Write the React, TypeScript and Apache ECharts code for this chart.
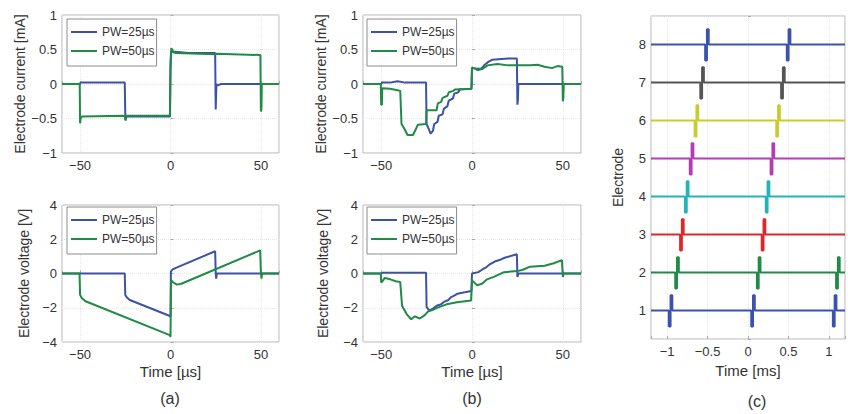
import React, { useEffect, useRef } from "react";
import * as echarts from "echarts";

const FONT = "'Liberation Sans', Arial, sans-serif";
const TEXT = "#333";
const BLUE = "#3b52a8";
const GREEN = "#1f8b45";
const legendNames = ["PW=25µs", "PW=50µs"];

// tick labels
const usTicks = [-50, 0, 50];
const curTicks = [-1, -0.5, 0, 0.5, 1];
const voltTicks = [-4, -2, 0, 2, 4];
const msTicks = [-1, -0.5, 0, 0.5, 1];
const electrodes = [1, 2, 3, 4, 5, 6, 7, 8];

// (a) electrode current [mA] vs time [µs]
const aCur25: number[][] = [
  [-60, 0], [-50.2, 0], [-49.8, 0.02], [-25.3, 0.02], [-25, -0.45], [-24.8, -0.53], [-24.4, -0.47],
  [-0.3, -0.47], [0, 0.2], [0.3, 0.47], [1, 0.47], [10, 0.45], [24.7, 0.45], [25, -0.37], [25.2, -0.37],
  [25.4, 0], [26, -0.02], [28, 0], [60, 0],
];
const aCur50: number[][] = [
  [-60, 0], [-50.2, 0], [-50, -0.57], [-49.7, -0.5], [-49, -0.47], [-25.2, -0.46], [-25, -0.52], [-24.6, -0.46],
  [-0.3, -0.46], [0, 0.3], [0.5, 0.52], [1.5, 0.46], [3, 0.45], [25, 0.43], [25.5, 0.44], [49.7, 0.42],
  [50, -0.4], [50.3, -0.35], [50.5, 0], [60, 0],
];
// (a) electrode voltage [V]
const aVolt25: number[][] = [
  [-60, 0], [-25.3, 0], [-25, -1.25], [-24, -1.42], [-22.5, -1.55], [-0.3, -2.48], [0, -2.55], [0.2, 0.1],
  [1, 0.22], [3, 0.33], [24.7, 1.3], [25, 0], [25.3, -0.3], [25.6, 0], [60, 0],
];
const aVolt50: number[][] = [
  [-60, 0], [-50.3, 0], [-50, -1.25], [-49, -1.45], [-47, -1.62], [-0.4, -3.6], [0, -3.7], [0.3, -0.38],
  [1.5, -0.52], [3.5, -0.65], [6, -0.6], [49.6, 1.35], [50, 0], [50.3, -0.3], [50.6, 0], [60, 0],
];

// (b) electrode current [mA]
const bCur25: number[][] = [
  [-60, 0], [-50, 0], [-49.5, 0.02], [-45, 0.02], [-41, 0.04], [-37, 0.02], [-25.3, 0.02], [-25, -0.58],
  [-24, -0.64], [-22.8, -0.72], [-21.5, -0.68], [-20.8, -0.58], [-19, -0.55], [-18.3, -0.46], [-16.2, -0.44],
  [-15.5, -0.36], [-13.5, -0.32], [-12.8, -0.24], [-10.5, -0.21], [-9.8, -0.14], [-7.5, -0.12], [-6.8, -0.08],
  [-0.3, -0.07], [0, 0.23], [3, 0.22], [5, 0.22], [7, 0.28], [9, 0.32], [11, 0.35], [20, 0.37], [24.7, 0.37],
  [25, -0.3], [25.3, -0.22], [25.5, 0], [60, 0],
];
const bCur50: number[][] = [
  [-60, 0], [-50.2, 0], [-50, -0.3], [-49.6, -0.3], [-49.4, -0.06], [-45, -0.07], [-41, -0.09], [-39.5, -0.1],
  [-38.8, -0.58], [-37, -0.66], [-35.5, -0.74], [-32.5, -0.74], [-31, -0.66], [-29.8, -0.59], [-25.3, -0.58],
  [-25, -0.38], [-19.5, -0.38], [-18.8, -0.28], [-17, -0.26], [-16.2, -0.2], [-13.5, -0.17], [-12.8, -0.12],
  [-10.2, -0.1], [-9.5, -0.08], [-0.3, -0.07], [0, 0.24], [2, 0.22], [3, 0.2], [6, 0.22], [8.5, 0.27],
  [14, 0.29], [20, 0.27], [32, 0.27], [36, 0.28], [40, 0.25], [44, 0.23], [47, 0.26], [49.7, 0.25],
  [50, -0.25], [50.3, -0.2], [50.5, 0], [60, 0],
];
// (b) electrode voltage [V]
const bVolt25: number[][] = [
  [-60, 0], [-50, 0], [-49.5, 0.05], [-25.3, 0.05], [-25, -1.95], [-23.5, -2.17], [-21.5, -2.05],
  [-19.5, -1.88], [-17, -1.8], [-15.5, -1.66], [-13, -1.55], [-11.5, -1.38], [-9.5, -1.28], [-8, -1.18],
  [-4, -1.1], [-0.3, -1.02], [0, 0], [3.5, 0.08], [5.5, 0.22], [7.5, 0.34], [10, 0.55], [12.5, 0.7],
  [16, 0.82], [18, 0.92], [24.7, 1.12], [25, -0.2], [25.3, -0.08], [25.6, 0], [60, 0],
];
const bVolt50: number[][] = [
  [-60, 0], [-50.2, 0], [-50, -0.53], [-49.3, -0.45], [-48, -0.26], [-45, -0.34], [-42, -0.45], [-39.5, -0.5],
  [-38.5, -1.88], [-36, -2.37], [-33.5, -2.67], [-31.5, -2.5], [-28.7, -2.63], [-26, -2.43], [-24, -2.2],
  [-21, -2.1], [-18.5, -1.98], [-14, -1.8], [-8.3, -1.68], [-0.5, -1.58], [0, -0.4], [2.8, -0.69],
  [5.5, -0.6], [8.3, -0.34], [12, -0.2], [17.6, 0.08], [25, 0.14], [28, 0.22], [32, 0.4], [40, 0.45],
  [45, 0.6], [49.5, 0.78], [50, -0.2], [50.4, -0.05], [50.8, 0], [60, 0],
];

// (c) stimulation pulse onsets [ms] per electrode (1..8) and the biphasic pulse template
const pulseOnsets: number[][] = [
  [-0.98, 0.04, 1.05],
  [-0.9, 0.11, 1.09],
  [-0.84, 0.17],
  [-0.78, 0.22],
  [-0.72, 0.28],
  [-0.66, 0.35],
  [-0.59, 0.41],
  [-0.53, 0.48],
];
const pulseTemplate: number[][] = [
  [0, -0.42], [0.022, -0.42], [0.022, 0.4], [0.044, 0.4],
];
const electrodeColors = ["#3b52b0", "#1f8b45", "#e0262a", "#22b4b8", "#b43cb4", "#c9cc2c", "#555555", "#3b52b0"];

function buildTrace(e: number, onsets: number[]): number[][] {
  const pts: number[][] = [[-1.2, e]];
  onsets.forEach((t) => {
    pts.push([t, e]);
    pulseTemplate.forEach(([dt, dv]) => pts.push([t + dt, e + dv]));
    pts.push([t + pulseTemplate[pulseTemplate.length - 1][0], e]);
  });
  pts.push([1.2, e]);
  return pts;
}

const fmt = (ticks: number[]) => (v: number) => {
  const hit = ticks.find((t) => Math.abs(t - v) < 1e-9);
  if (hit === undefined) return "";
  return String(hit).replace("-", "\u2212");
};

const splitLine = { show: true, lineStyle: { color: "#e6e6e6", type: "dotted" as const, width: 1 } };
const axisTick = { show: true, inside: true, length: 3, lineStyle: { color: "#aaa" } };
const axisLabelBase = { color: TEXT, fontSize: 13, fontFamily: FONT };

function xAxis(gridIndex: number, min: number, max: number, splitNumber: number, ticks: number[], name?: string) {
  return {
    type: "value", gridIndex, min, max, splitNumber,
    axisLine: { show: false }, axisTick, splitLine,
    axisLabel: { ...axisLabelBase, margin: 6, formatter: fmt(ticks) },
    name: name || "", nameLocation: "middle", nameGap: 22,
    nameTextStyle: { color: TEXT, fontSize: 15, fontFamily: FONT },
  };
}
function yAxis(gridIndex: number, min: number, max: number, splitNumber: number, ticks: number[], name: string, nameGap: number) {
  return {
    type: "value", gridIndex, min, max, splitNumber,
    axisLine: { show: false }, axisTick, splitLine,
    axisLabel: { ...axisLabelBase, margin: 5, formatter: fmt(ticks) },
    name, nameLocation: "middle", nameGap, nameRotate: 90,
    nameTextStyle: { color: TEXT, fontSize: 14, fontFamily: FONT },
  };
}
function line(name: string, data: number[][], color: string, idx: number, width = 2) {
  return {
    type: "line", name, data, xAxisIndex: idx, yAxisIndex: idx, showSymbol: false, symbol: "none",
    color, lineStyle: { color, width }, silent: true,
  };
}
function legend(left: number, top: number) {
  return {
    data: legendNames.map((n) => ({ name: n, icon: "rect" })),
    orient: "vertical", left, top, itemWidth: 26, itemHeight: 2, itemGap: 5,
    padding: [6, 2, 8, 4], borderColor: "#8c8c8c", borderWidth: 1, backgroundColor: "#fff",
    textStyle: { color: TEXT, fontSize: 12, fontFamily: FONT, lineHeight: 14 }, selectedMode: false,
  };
}
const gridBase = { show: true, borderColor: "#b4b4b4", borderWidth: 1, backgroundColor: "#fff" };

export default function App() {
  const ref = useRef<HTMLDivElement>(null);
  useEffect(() => {
    if (!ref.current) return;
    const chart = echarts.init(ref.current, undefined, { renderer: "svg" });
    const cSeries = electrodes.map((e, i) => line("E" + e, buildTrace(e, pulseOnsets[i]), electrodeColors[i], 4, 2));
    chart.setOption({
      animation: false,
      backgroundColor: "#fff",
      textStyle: { fontFamily: FONT },
      grid: [
        { ...gridBase, left: 62, top: 15, width: 217, height: 138 },
        { ...gridBase, left: 62, top: 205, width: 217, height: 137 },
        { ...gridBase, left: 363, top: 15, width: 218, height: 138 },
        { ...gridBase, left: 363, top: 205, width: 218, height: 137 },
        { ...gridBase, left: 651, top: 16, width: 204, height: 323 },
      ],
      xAxis: [
        xAxis(0, -60, 60, 2, usTicks),
        xAxis(1, -60, 60, 2, usTicks, "Time [µs]"),
        xAxis(2, -60, 60, 2, usTicks),
        xAxis(3, -60, 60, 2, usTicks, "Time [µs]"),
        xAxis(4, -1.2, 1.2, 5, msTicks, "Time [ms]"),
      ],
      yAxis: [
        yAxis(0, -1, 1, 4, curTicks, "Electrode current [mA]", 31),
        yAxis(1, -4, 4, 4, voltTicks, "Electrode voltage [V]", 31),
        yAxis(2, -1, 1, 4, curTicks, "Electrode current [mA]", 33),
        yAxis(3, -4, 4, 4, voltTicks, "Electrode voltage [V]", 33),
        yAxis(4, 0.25, 8.75, 8, electrodes, "Electrode", 26),
      ],
      legend: [legend(67, 19), legend(67, 207), legend(367, 19), legend(367, 207)],
      series: [
        line(legendNames[0], aCur25, BLUE, 0),
        line(legendNames[1], aCur50, GREEN, 0),
        line(legendNames[0], aVolt25, BLUE, 1),
        line(legendNames[1], aVolt50, GREEN, 1),
        line(legendNames[0], bCur25, BLUE, 2),
        line(legendNames[1], bCur50, GREEN, 2),
        line(legendNames[0], bVolt25, BLUE, 3),
        line(legendNames[1], bVolt50, GREEN, 3),
        ...cSeries,
      ],
      graphic: [
        { type: "text", x: 170, y: 398, style: { text: "(a)", align: "center", verticalAlign: "middle", fontSize: 16, fontFamily: FONT, fill: TEXT } },
        { type: "text", x: 472, y: 398, style: { text: "(b)", align: "center", verticalAlign: "middle", fontSize: 16, fontFamily: FONT, fill: TEXT } },
        { type: "text", x: 757, y: 401, style: { text: "(c)", align: "center", verticalAlign: "middle", fontSize: 16, fontFamily: FONT, fill: TEXT } },
      ],
    });
    return () => chart.dispose();
  }, []);
  return <div ref={ref} style={{ position: "absolute", left: 0, top: 0, width: 848, height: 414, background: "#fff" }} />;
}
